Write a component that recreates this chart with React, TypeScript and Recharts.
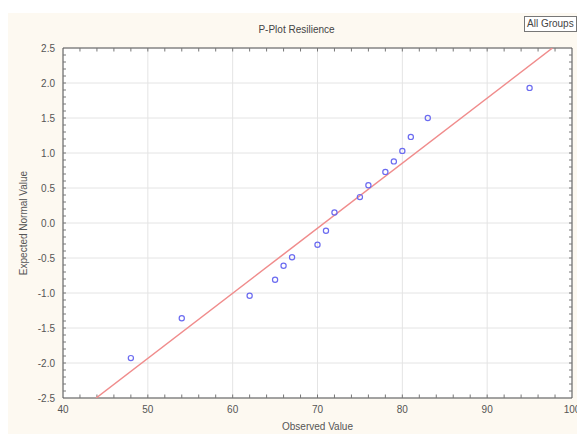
import React from 'react';
import {
  ScatterChart,
  Scatter,
  XAxis,
  YAxis,
  CartesianGrid,
  ReferenceArea,
  ReferenceLine,
} from 'recharts';

// observed values and their expected normal scores
const observed = [48, 54, 62, 65, 66, 67, 70, 71, 72, 75, 76, 78, 79, 80, 81, 83, 95];
const expected = [-1.93, -1.36, -1.04, -0.81, -0.61, -0.49, -0.31, -0.11, 0.15, 0.37, 0.54, 0.73, 0.88, 1.03, 1.23, 1.5, 1.93];

// fitted normal line end points
const lineX = [43.9, 97.7];
const lineY = [-2.5, 2.5];

const xTicks = [40, 50, 60, 70, 80, 90, 100];
const yTicks = [-2.5, -2.0, -1.5, -1.0, -0.5, 0.0, 0.5, 1.0, 1.5, 2.0, 2.5];
const xMinor = [42, 44, 46, 48, 50, 52, 54, 56, 58, 60, 62, 64, 66, 68, 70, 72, 74, 76, 78, 80, 82, 84, 86, 88, 90, 92, 94, 96, 98];
const yMinor = [-2.4, -2.3, -2.2, -2.1, -2.0, -1.9, -1.8, -1.7, -1.6, -1.5, -1.4, -1.3, -1.2, -1.1, -1.0, -0.9, -0.8, -0.7, -0.6, -0.5, -0.4, -0.3, -0.2, -0.1, 0.0, 0.1, 0.2, 0.3, 0.4, 0.5, 0.6, 0.7, 0.8, 0.9, 1.0, 1.1, 1.2, 1.3, 1.4, 1.5, 1.6, 1.7, 1.8, 1.9, 2.0, 2.1, 2.2, 2.3, 2.4];

const points = observed.map((x, i) => ({ x, y: expected[i] }));
const linePts = lineX.map((x, i) => ({ x, y: lineY[i] }));

const font = 'Arial, "Liberation Sans", sans-serif';
const tickStyle = { fontSize: 10, fill: '#555', fontFamily: font };
const tickColor = '#777';

export default function App() {
  return (
    <div style={{ position: 'relative', width: 569, height: 426, fontFamily: font }}>
      <style>{'html,body{overflow:hidden}'}</style>
      <div style={{ position: 'absolute', top: 5, left: 0, width: 577, height: 429, background: '#fdf9f1' }}>
        <div style={{ position: 'absolute', top: 11, left: 0, width: 577, textAlign: 'center', fontSize: 10, color: '#444' }}>
          P-Plot Resilience
        </div>
        <div style={{ position: 'absolute', top: 3, left: 516, padding: '1px 2px', border: '1px solid #777', background: '#fff', fontSize: 10, color: '#444', lineHeight: '12px', whiteSpace: 'nowrap' }}>
          All Groups
        </div>
        <ScatterChart width={577} height={429} margin={{ top: 35, right: 13, bottom: 14, left: 10 }} style={{ overflow: 'visible' }}>
          <CartesianGrid xAxisId="main" yAxisId="main" stroke="#e4e4e4" fill="#ffffff" horizontalValues={yTicks} verticalValues={xTicks} />
          <XAxis
            xAxisId="main"
            type="number"
            dataKey="x"
            domain={[40, 100]}
            ticks={xTicks}
            height={30}
            tick={tickStyle}
            tickLine={false}
            axisLine={false}
            allowDataOverflow
            label={{ value: 'Observed Value', position: 'insideBottom', offset: -2, style: { fontSize: 10, fill: '#555', fontFamily: font } }}
          />
          <YAxis
            yAxisId="main"
            type="number"
            dataKey="y"
            domain={[-2.5, 2.5]}
            ticks={yTicks}
            width={45}
            tick={tickStyle}
            tickFormatter={(v: number) => v.toFixed(1)}
            tickLine={false}
            axisLine={false}
            allowDataOverflow
            label={{ value: 'Expected Normal Value', angle: -90, position: 'insideLeft', offset: 5, style: { fontSize: 10, fill: '#555', fontFamily: font, textAnchor: 'middle' } }}
          />
          {xMinor.map((v) => (
            <ReferenceLine key={`xb${v}`} xAxisId="main" yAxisId="main" segment={[{ x: v, y: -2.5 }, { x: v, y: -2.45 }]} stroke={tickColor} />
          ))}
          {xMinor.map((v) => (
            <ReferenceLine key={`xt${v}`} xAxisId="main" yAxisId="main" segment={[{ x: v, y: 2.5 }, { x: v, y: 2.45 }]} stroke={tickColor} />
          ))}
          {yMinor.map((v) => (
            <ReferenceLine key={`yl${v}`} xAxisId="main" yAxisId="main" segment={[{ x: 40, y: v }, { x: 40.35, y: v }]} stroke={tickColor} />
          ))}
          {yMinor.map((v) => (
            <ReferenceLine key={`yr${v}`} xAxisId="main" yAxisId="main" segment={[{ x: 100, y: v }, { x: 99.65, y: v }]} stroke={tickColor} />
          ))}
          <ReferenceArea xAxisId="main" yAxisId="main" x1={40} x2={100} y1={-2.5} y2={2.5} fill="none" stroke="#555" strokeWidth={1} ifOverflow="visible" />
          <Scatter
            xAxisId="main"
            yAxisId="main"
            data={linePts}
            line={{ stroke: '#f08c8c', strokeWidth: 1.5 }}
            shape={() => <g />}
            isAnimationActive={false}
          />
          <Scatter
            xAxisId="main"
            yAxisId="main"
            data={points}
            shape={(p: any) => <circle cx={p.cx} cy={p.cy} r={2.6} fill="none" stroke="#6b6bf0" strokeWidth={1.2} />}
            isAnimationActive={false}
          />
        </ScatterChart>
      </div>
    </div>
  );
}
